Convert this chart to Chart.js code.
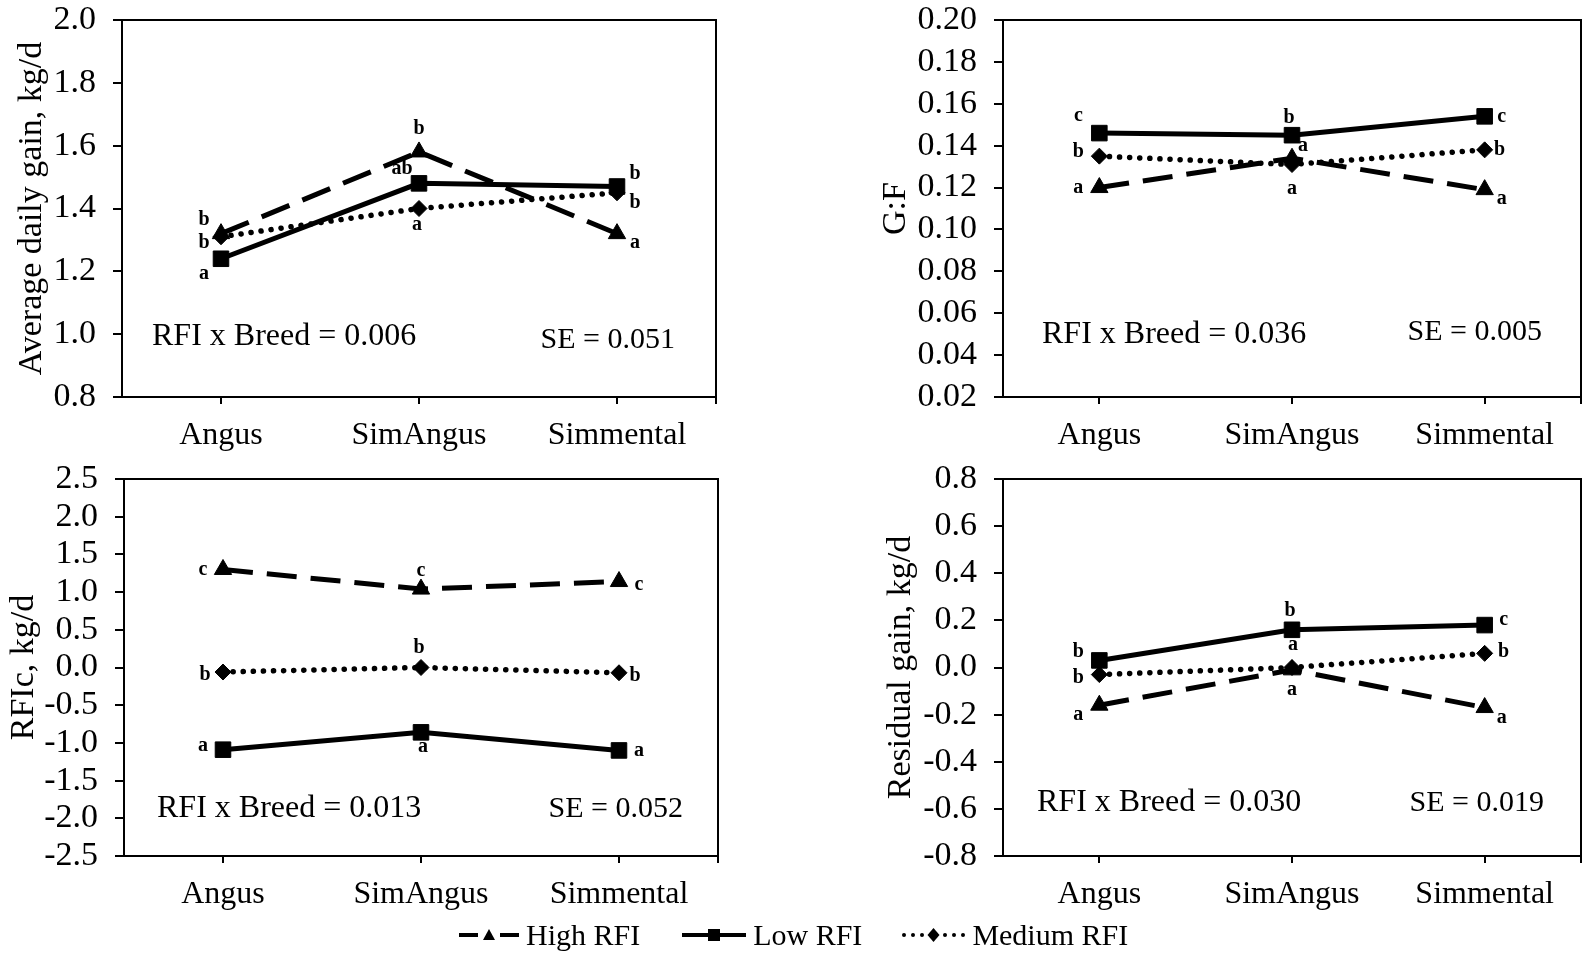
<!DOCTYPE html>
<html lang="en">
<head>
<meta charset="UTF-8">
<title>RFI x Breed</title>
<script src="https://cdn.jsdelivr.net/npm/chart.js"></script>
<style>
  * { margin: 0; padding: 0; box-sizing: border-box; }
  body {
    width: 1585px;
    height: 954px;
    background: #fff;
    position: relative;
    overflow: hidden;
    font-family: 'Liberation Serif', 'Times New Roman', serif;
    color: #000;
  }
  .panel { position: absolute; }
  .legend {
    position: absolute;
    left: 457px;
    top: 916px;
    height: 38px;
    display: flex;
    align-items: center;
    font-size: 30px;
    line-height: 38px;
  }
  .legend .item { display: flex; align-items: center; }
  .legend canvas { display: block; }
</style>
</head>
<body>
  <canvas class="panel" id="adg" width="740" height="460" style="left:0;top:0"></canvas>
  <canvas class="panel" id="gf" width="733" height="460" style="left:860px;top:0"></canvas>
  <canvas class="panel" id="rfic" width="740" height="460" style="left:0;top:460px"></canvas>
  <canvas class="panel" id="rg" width="733" height="460" style="left:860px;top:460px"></canvas>

  <div class="legend" id="legend"></div>

<script>
const breeds = ['Angus', 'SimAngus', 'Simmental'];
const seriesNames = ['High RFI', 'Low RFI', 'Medium RFI'];

// Average daily gain, kg/d
const adgHigh = [1.32, 1.58, 1.32];
const adgLow = [1.24, 1.48, 1.47];
const adgMedium = [1.31, 1.40, 1.45];
const adgLetters = [['b', 'b', 'a'], ['a', 'ab', 'b'], ['b', 'a', 'b']];
const adgStats = ['RFI x Breed = 0.006', 'SE = 0.051'];

// G:F
const gfHigh = [0.120, 0.134, 0.119];
const gfLow = [0.146, 0.145, 0.154];
const gfMedium = [0.135, 0.131, 0.138];
const gfLetters = [['a', 'a', 'a'], ['c', 'b', 'c'], ['b', 'a', 'b']];
const gfStats = ['RFI x Breed = 0.036', 'SE = 0.005'];

// RFIc, kg/d
const rficHigh = [1.30, 1.04, 1.14];
const rficLow = [-1.09, -0.86, -1.10];
const rficMedium = [-0.06, 0.00, -0.07];
const rficLetters = [['c', 'c', 'c'], ['a', 'a', 'a'], ['b', 'b', 'b']];
const rficStats = ['RFI x Breed = 0.013', 'SE = 0.052'];

// Residual gain, kg/d
const rgHigh = [-0.16, -0.01, -0.17];
const rgLow = [0.03, 0.16, 0.18];
const rgMedium = [-0.03, 0.00, 0.06];
const rgLetters = [['a', 'a', 'a'], ['b', 'b', 'c'], ['b', 'a', 'b']];
const rgStats = ['RFI x Breed = 0.030', 'SE = 0.019'];

// line look per series: high, low, medium
const lineStyles = [
  { width: 5, dash: [30, 14], cap: 'butt', point: 'triangle', radius: 10 },
  { width: 5, dash: [], cap: 'butt', point: 'rect', radius: 11 },
  { width: 5.5, dash: [0.1, 10], cap: 'round', point: 'rectRot', radius: 8 }
];

// letter placement (dx, dy from the point), per series then breed
const adgOffsets = [[[-17, -14], [0, -23], [18, 9]], [[-17, 15], [-17, -15], [18, -13]], [[-17, 6], [-2, 16], [18, 10]]];
const gfOffsets = [[[-21, 0], [11, -12], [17, 9]], [[-21, -17], [-3, -17], [17, 0]], [[-21, -4], [0, 24], [15, 0]]];
const rficOffsets = [[[-20, 0], [0, -18], [20, 3]], [[-20, -4], [2, 14], [20, 0]], [[-18, 3], [-2, -20], [16, 3]]];
const rgOffsets = [[[-21, 10], [0, 20], [17, 10]], [[-21, -9], [-2, -19], [19, -5]], [[-21, 3], [1, -23], [19, -2]]];

const panels = [
  { id: 'adg', values: [adgHigh, adgLow, adgMedium], letters: adgLetters, offsets: adgOffsets, stats: adgStats,
    title: 'Average daily gain, kg/d', min: 0.8, max: 2.0, step: 0.2, dec: 1,
    axisW: 122, top: 20, right: 24, axisH: 63, titlePad: 12,
    statL: [30, 60], statR: [41, 57] },
  { id: 'gf', values: [gfHigh, gfLow, gfMedium], letters: gfLetters, offsets: gfOffsets, stats: gfStats,
    title: 'G:F', min: 0.02, max: 0.20, step: 0.02, dec: 2,
    axisW: 143, top: 20, right: 3, axisH: 63, titlePad: 16,
    statL: [39, 62], statR: [39, 65] },
  { id: 'rfic', values: [rficHigh, rficLow, rficMedium], letters: rficLetters, offsets: rficOffsets, stats: rficStats,
    title: 'RFIc, kg/d', min: -2.5, max: 2.5, step: 0.5, dec: 1,
    axisW: 124, top: 19, right: 22, axisH: 64, titlePad: 4,
    statL: [33, 47], statR: [35, 47] },
  { id: 'rg', values: [rgHigh, rgLow, rgMedium], letters: rgLetters, offsets: rgOffsets, stats: rgStats,
    title: 'Residual gain, kg/d', min: -0.8, max: 0.8, step: 0.2, dec: 1,
    axisW: 143, top: 19, right: 3, axisH: 64, titlePad: 21,
    statL: [34, 53], statR: [37, 53] }
];

Chart.defaults.font.family = "'Liberation Serif', 'Times New Roman', serif";
Chart.defaults.color = '#000';

function makeChart(p) {
  // frame on top/right plus the last tick, letters, and the stats text
  const extras = {
    id: 'extras_' + p.id,
    beforeDatasetsDraw(chart) {
      const { ctx, chartArea: a } = chart;
      ctx.save();
      ctx.strokeStyle = '#000';
      ctx.lineWidth = 2;
      ctx.beginPath();
      ctx.moveTo(a.left, a.top);
      ctx.lineTo(a.right, a.top);
      ctx.lineTo(a.right, a.bottom + 7);
      ctx.stroke();
      ctx.restore();
    },
    afterDatasetsDraw(chart) {
      const { ctx, chartArea: a } = chart;
      ctx.save();
      ctx.fillStyle = '#000';
      ctx.textAlign = 'center';
      ctx.textBaseline = 'middle';
      ctx.font = "bold 20px 'Liberation Serif', serif";
      p.letters.forEach((row, i) => {
        const meta = chart.getDatasetMeta(i);
        row.forEach((txt, j) => {
          const pt = meta.data[j];
          const off = p.offsets[i][j];
          ctx.fillText(txt, pt.x + off[0], pt.y + off[1]);
        });
      });
      ctx.font = "32px 'Liberation Serif', serif";
      ctx.textAlign = 'left';
      ctx.fillText(p.stats[0], a.left + p.statL[0], a.bottom - p.statL[1]);
      ctx.font = "30px 'Liberation Serif', serif";
      ctx.textAlign = 'right';
      ctx.fillText(p.stats[1], a.right - p.statR[0], a.bottom - p.statR[1]);
      ctx.restore();
    }
  };

  return new Chart(document.getElementById(p.id), {
    type: 'line',
    data: {
      labels: breeds,
      datasets: p.values.map((v, i) => ({
        label: seriesNames[i],
        data: v,
        borderColor: '#000',
        backgroundColor: '#000',
        borderWidth: lineStyles[i].width,
        borderDash: lineStyles[i].dash,
        borderCapStyle: lineStyles[i].cap,
        pointStyle: lineStyles[i].point,
        pointRadius: lineStyles[i].radius,
        pointBorderWidth: 1,
        pointBackgroundColor: '#000',
        pointBorderColor: '#000',
        tension: 0,
        fill: false
      }))
    },
    options: {
      responsive: false,
      animation: false,
      devicePixelRatio: 1,
      layout: { padding: { top: p.top, right: p.right, left: 0, bottom: 0 } },
      plugins: { legend: { display: false }, tooltip: { enabled: false } },
      scales: {
        x: {
          offset: true,
          grid: { offset: false, drawOnChartArea: false, color: '#000', lineWidth: 2, tickLength: 7 },
          border: { color: '#000', width: 2 },
          ticks: { color: '#000', font: { size: 32 }, padding: 12, maxRotation: 0, autoSkip: false },
          afterFit: s => { s.height = p.axisH; s.paddingLeft = 0; s.paddingRight = 0; }
        },
        y: {
          min: p.min,
          max: p.max,
          grid: { drawOnChartArea: false, color: '#000', lineWidth: 2, tickLength: 9 },
          border: { color: '#000', width: 2 },
          ticks: { stepSize: p.step, autoSkip: false, color: '#000', font: { size: 34, lineHeight: 1.0 }, padding: 17,
                   callback: v => Number(v).toFixed(p.dec) },
          title: { display: true, text: p.title, color: '#000', font: { size: 34 },
                   padding: { top: p.titlePad, bottom: 0 } },
          afterFit: s => { s.width = p.axisW; s.paddingTop = 0; s.paddingBottom = 0; }
        }
      }
    },
    plugins: [extras]
  });
}

panels.forEach(makeChart);

// legend
function drawSample(cv, i) {
  const ctx = cv.getContext('2d');
  const w = cv.width, cy = cv.height / 2, cx = w / 2;
  ctx.fillStyle = ctx.strokeStyle = '#000';
  ctx.lineWidth = 4;
  ctx.beginPath();
  if (i === 0) {
    ctx.moveTo(2, cy); ctx.lineTo(21, cy);
    ctx.moveTo(w - 21, cy); ctx.lineTo(w - 2, cy);
    ctx.stroke();
    ctx.beginPath();
    ctx.moveTo(cx, cy - 6); ctx.lineTo(cx + 6, cy + 5); ctx.lineTo(cx - 6, cy + 5);
    ctx.closePath(); ctx.fill();
  } else if (i === 1) {
    ctx.moveTo(2, cy); ctx.lineTo(w - 2, cy);
    ctx.stroke();
    ctx.fillRect(cx - 6, cy - 6, 12, 12);
  } else {
    [4, 13, 22, w - 22, w - 13, w - 4].forEach(x => {
      ctx.beginPath(); ctx.arc(x, cy, 2, 0, Math.PI * 2); ctx.fill();
    });
    ctx.beginPath();
    ctx.moveTo(cx, cy - 7); ctx.lineTo(cx + 6, cy); ctx.lineTo(cx, cy + 7); ctx.lineTo(cx - 6, cy);
    ctx.closePath(); ctx.fill();
  }
}

const legend = document.getElementById('legend');
const sampleW = [64, 68, 67];
const gaps = [0, 40, 38];
seriesNames.forEach((name, i) => {
  const item = document.createElement('div');
  item.className = 'item';
  item.style.marginLeft = gaps[i] + 'px';
  const cv = document.createElement('canvas');
  cv.width = sampleW[i];
  cv.height = 20;
  cv.style.marginRight = '5px';
  drawSample(cv, i);
  const span = document.createElement('span');
  span.textContent = name;
  item.appendChild(cv);
  item.appendChild(span);
  legend.appendChild(item);
});
</script>
</body>
</html>
